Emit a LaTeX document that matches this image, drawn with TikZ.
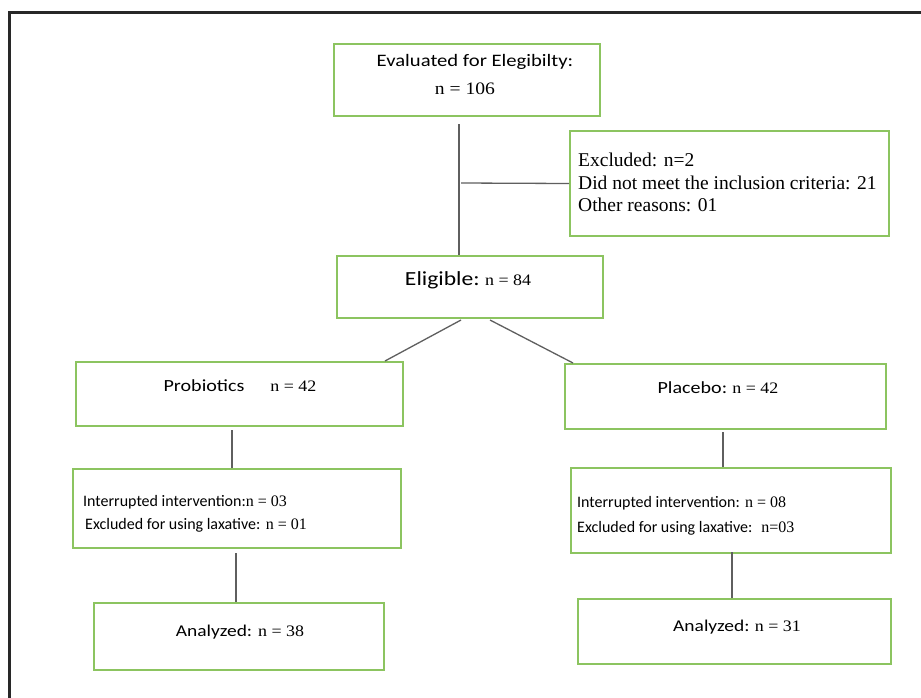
\documentclass[tikz,border=0pt]{standalone}
\usepackage{fontspec}
\setmainfont{Liberation Serif}
\newfontfamily\calib{Carlito}
\newfontfamily\calibw[FakeStretch=1.18]{Carlito}
\newfontfamily\serw[FakeStretch=1.12]{Liberation Serif}
\usetikzlibrary{calc}
\definecolor{boxgreen}{RGB}{140,196,96}
\definecolor{linegray}{RGB}{95,95,95}
\definecolor{framegray}{RGB}{40,40,40}
\begin{document}
\begin{tikzpicture}[x=1pt,y=-1pt,
  box/.style={draw=boxgreen,line width=2pt,inner sep=0pt,anchor=north west},
  txt/.style={inner sep=0pt,font=\fontsize{16}{19}\selectfont},
  ttxt/.style={inner sep=0pt,font=\fontsize{19.5}{22.5}\selectfont,align=left,anchor=west},
  conn/.style={draw=linegray,line width=1.3pt}]
\clip (0,0) rectangle (921,697);
\fill[white] (0,0) rectangle (921,697);
\draw[framegray,line width=3pt] (9.5,12) rectangle (940,720);
% boxes
\node[box,minimum width=266pt,minimum height=72pt] (eval) at (333,43) {};
\node[box,minimum width=319pt,minimum height=105pt] (excl) at (569,130) {};
\node[box,minimum width=266pt,minimum height=62pt] (elig) at (336,255) {};
\node[box,minimum width=327pt,minimum height=64pt] (prob) at (75,361) {};
\node[box,minimum width=321pt,minimum height=65pt] (plac) at (564,363) {};
\node[box,minimum width=328pt,minimum height=79pt] (intl) at (72,468) {};
\node[box,minimum width=320pt,minimum height=85pt] (intr) at (570,467) {};
\node[box,minimum width=290pt,minimum height=67pt] (anl) at (93,602) {};
\node[box,minimum width=313pt,minimum height=65pt] (anr) at (577,598) {};
% texts
\node[txt] (t1) at (475,62) {\calibw\fontsize{17.5}{20}\selectfont Evaluated for Elegibilty:};
\node[txt] (t2) at (465,89) {\serw\fontsize{17.5}{20}\selectfont n = 106};
\node[ttxt] (t3) at (578,182.5) {Excluded: n=2\\Did not meet the inclusion criteria: 21\\Other reasons: 01};
\node[txt] (t4) at (468,280) {{\calibw\fontsize{20}{22}\selectfont Eligible:} {\serw n = 84}};
\node[txt] (t5) at (240,386) {{\calibw\fontsize{17}{20}\selectfont Probiotics}\hspace{26pt}{\serw n = 42}};
\node[txt] (t6) at (718,388) {{\calibw\fontsize{17}{20}\selectfont Placebo:} {\serw n = 42}};
\node[txt,anchor=west] (t7) at (83,502) {{\calib Interrupted intervention:}n = 03};
\node[txt,anchor=west] (t8) at (85,525) {{\calib Excluded for using laxative:} n = 01};
\node[txt,anchor=west] (t9) at (577,503) {{\calib Interrupted intervention:} n = 08};
\node[txt,anchor=west] (t10) at (577,528) {{\calib Excluded for using laxative:}\hspace{9pt}n=03};
\node[txt] (t11) at (240,632) {{\calibw\fontsize{16.5}{19}\selectfont Analyzed:}\hspace{6pt}{\serw n = 38}};
\node[txt] (t12) at (737,627) {{\calibw\fontsize{16.5}{19}\selectfont Analyzed:} {\serw n = 31}};
% connectors
\coordinate (c1) at ($(eval.south)+(-8,7)$);
\coordinate (c2) at (c1 |- elig.north);
\draw[conn] (c1) -- (c2);
\coordinate (c3) at (461,183);
\draw[conn] (c3) -- (excl.west);
\coordinate (c4) at (461,320);
\coordinate (c5) at (490,320);
\draw[conn] (c4) -- (prob.north -| 385,0);
\draw[conn] (c5) -- (plac.north -| 573,0);
\coordinate (c6) at (232,430);
\draw[conn] (c6) -- (intl.north -| c6);
\coordinate (c7) at (723,432);
\draw[conn] (c7) -- (intr.north -| c7);
\coordinate (c8) at (236,553);
\draw[conn] (c8) -- (anl.north -| c8);
\coordinate (c9) at (732,552);
\draw[conn] (c9) -- (anr.north -| c9);
\end{tikzpicture}
\end{document}
